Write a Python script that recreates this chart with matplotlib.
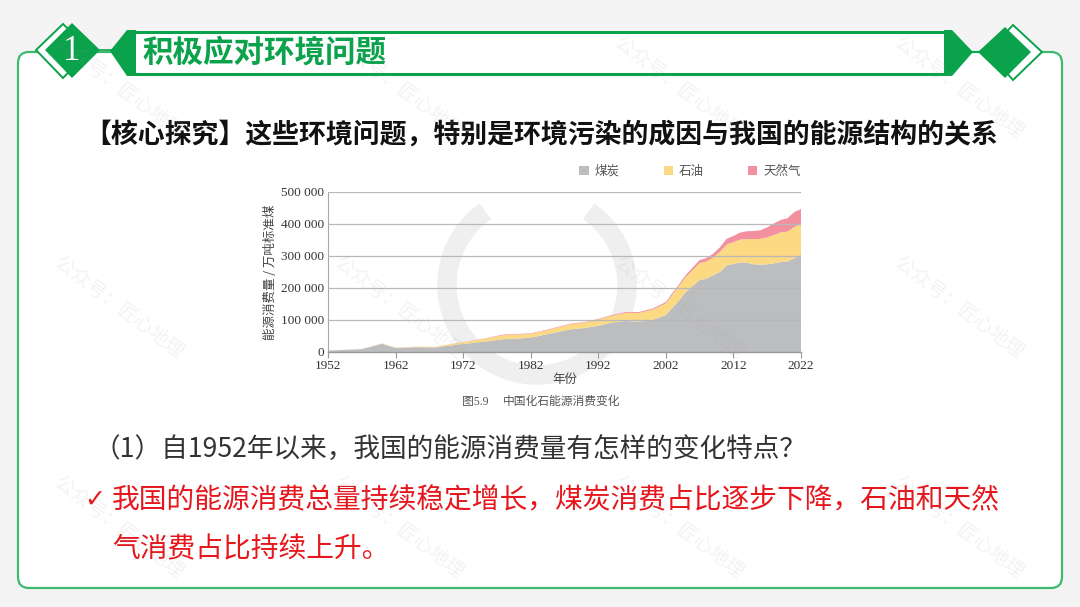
import matplotlib.pyplot as plt
from matplotlib.patches import FancyBboxPatch, Polygon, Rectangle, Arc

plt.rcParams['font.family'] = ['Noto Sans CJK SC', 'DejaVu Sans']

# fossil energy consumption of China, 10k tonnes of standard coal
years = [1952, 1957, 1960, 1962, 1965, 1968, 1970, 1972, 1975, 1978,
         1980, 1982, 1985, 1988, 1990, 1992, 1994, 1996, 1998, 2000,
         2002, 2004, 2005, 2006, 2007, 2008, 2009, 2010, 2011, 2012,
         2013, 2014, 2015, 2016, 2017, 2018, 2019, 2020, 2021, 2022]
coal = [4500, 8900, 25500, 12500, 15000, 14500, 20000, 25000, 32000, 40000,
        42000, 45000, 58000, 71000, 75000, 82000, 92000, 97000, 95000, 100000,
        116000, 162000, 189000, 207000, 225000, 229000, 240000, 250000, 271000, 275000,
        280000, 279000, 274000, 273000, 274000, 277000, 281000, 283000, 293000, 304000]
oil = [200, 450, 1200, 800, 1600, 1800, 3800, 5500, 8400, 12900,
       12500, 11700, 13100, 16100, 16400, 19100, 21400, 25000, 27000, 32300,
       36000, 45800, 46500, 50100, 52900, 53500, 55100, 62800, 65000, 68400,
       71300, 74100, 78700, 80600, 84300, 88800, 92600, 93100, 97600, 96800]
gas = [0, 10, 150, 150, 100, 150, 270, 500, 1100, 1800,
       1850, 1600, 1700, 1900, 2000, 2100, 2300, 2400, 3000, 3200,
       3900, 5300, 6300, 7600, 9300, 10900, 12000, 14400, 17800, 19300,
       22100, 24300, 25400, 26900, 31400, 36000, 39000, 41800, 46600, 45900]
series_names = ['煤炭', '石油', '天然气']
series_colors = ['#bcbdbf', '#fcd983', '#f2909f']
x_ticks = [1952, 1962, 1972, 1982, 1992, 2002, 2012, 2022]
y_ticks = [0, 100000, 200000, 300000, 400000, 500000]
y_tick_labels = ['0', '100 000', '200 000', '300 000', '400 000', '500 000']

title = '积极应对环境问题'
heading = '【核心探究】这些环境问题，特别是环境污染的成因与我国的能源结构的关系'
question = '（1）自1952年以来，我国的能源消费量有怎样的变化特点？'
answer1 = '我国的能源消费总量持续稳定增长，煤炭消费占比逐步下降，石油和天然'
answer2 = '气消费占比持续上升。'

green = '#0aa24a'
red = '#e5161c'
serif = ['Liberation Serif', 'Noto Sans CJK SC']

fig = plt.figure(figsize=(10.8, 6.07), dpi=100, facecolor='#f4f4f4')

# page decoration in pixel coordinates
bg = fig.add_axes([0, 0, 1, 1], zorder=0)
bg.set_xlim(0, 1080)
bg.set_ylim(607, 0)
bg.axis('off')

bg.add_patch(FancyBboxPatch((18, 52), 1044, 536, boxstyle='round,pad=0,rounding_size=11',
                            facecolor='white', edgecolor='#3dba6f', lw=1.6))
# banner
bg.plot([100, 112], [50, 50], color=green, lw=1.2)
bg.plot([970, 980], [52, 52], color=green, lw=1.2)
bg.add_patch(Rectangle((132, 32), 816, 42, facecolor='white', edgecolor=green, lw=2.2))
bg.add_patch(Polygon([(110, 51), (127, 30), (136, 30), (136, 76), (127, 76)], facecolor=green, edgecolor='none'))
bg.add_patch(Polygon([(944, 30), (952, 30), (973, 52), (952, 76), (944, 76)], facecolor=green, edgecolor='none'))
# left diamonds
bg.add_patch(Polygon([(36, 50), (63, 24), (90, 50), (63, 78)], facecolor='white', edgecolor=green, lw=1.4))
bg.add_patch(Polygon([(45, 50), (72, 23), (100, 50), (72, 78)], facecolor=green, edgecolor='none'))
bg.text(72, 51, '1', color='white', fontsize=25, ha='center', va='center', family=serif)
# right diamonds
bg.add_patch(Polygon([(988, 52), (1013, 25), (1042, 52), (1013, 80)], facecolor='white', edgecolor=green, lw=1.4))
bg.add_patch(Polygon([(978, 52), (1005, 27), (1031, 52), (1005, 78)], facecolor=green, edgecolor='none'))

bg.text(142, 52, title, color=green, fontsize=22, fontweight='bold', ha='left', va='center')
bg.text(84, 135, heading, color='#111111', fontsize=19.4, fontweight='bold', ha='left', va='center')
bg.text(93, 450, question, color='#333333', fontsize=19.2, ha='left', va='center')
bg.text(84, 500, '✓', color=red, fontsize=18, ha='left', va='center', family=['DejaVu Sans'])
bg.text(112, 500, answer1, color=red, fontsize=20, ha='left', va='center')
bg.text(112, 549, answer2, color=red, fontsize=20, ha='left', va='center')

# faint logo behind the chart
bg.add_patch(Arc((537, 285), 180, 180, theta1=-55, theta2=235, color='#efefef', lw=14))

bg.text(462, 402, '图5.9', color='#555555', fontsize=8.5, ha='left', va='center', family=serif)
bg.text(503, 402, '中国化石能源消费变化', color='#555555', fontsize=8.5, ha='left', va='center')

# chart
ax = fig.add_axes([328 / 1080, 1 - 352 / 607, 473 / 1080, 160 / 607], zorder=1)
ax.set_facecolor('none')
polys = ax.stackplot(years, coal, oil, gas, colors=series_colors, labels=series_names, lw=0)
ax.set_xlim(1952, 2022)
ax.set_ylim(0, 500000)
ax.set_xticks(x_ticks)
ax.set_xticklabels([str(y) for y in x_ticks], family=serif, fontsize=9.5, color='#333333')
ax.set_yticks(y_ticks)
ax.set_yticklabels(y_tick_labels, family=serif, fontsize=9.5, color='#333333')
ax.yaxis.grid(True, color='#b8b8b8', lw=0.9)
ax.set_axisbelow(False)
ax.tick_params(axis='y', length=0, pad=3)
ax.tick_params(axis='x', length=4, color='#999999', pad=2)
for s in ['top', 'right']:
    ax.spines[s].set_visible(False)
ax.spines['left'].set_color('#aaaaaa')
ax.spines['left'].set_linewidth(0.8)
ax.spines['bottom'].set_color('#999999')
ax.spines['bottom'].set_linewidth(1.0)

ax.set_ylabel('能源消费量 / 万吨标准煤', fontsize=9, color='#444444')
ax.yaxis.set_label_coords(-0.107, 0.5)
ax.set_xlabel('年份', fontsize=9, color='#444444')
ax.xaxis.set_label_coords(0.5, -0.134)

leg = ax.legend(loc='lower right', bbox_to_anchor=(1.0, 1.09), ncol=3, frameon=False,
                handlelength=0.75, handleheight=0.75, handletextpad=0.5,
                columnspacing=3.5, fontsize=9, borderaxespad=0, borderpad=0)
for t in leg.get_texts():
    t.set_color('#555555')

# watermark
for wx in [119, 399, 679, 959]:
    for wy in [88, 308, 528]:
        fig.text(wx / 1080, 1 - wy / 607, '公众号：匠心地理', color='#a0a0a0', alpha=0.13,
                 fontsize=14, rotation=-37, ha='center', va='center', zorder=5)

fig.savefig('out.png', dpi=100, facecolor=fig.get_facecolor())
